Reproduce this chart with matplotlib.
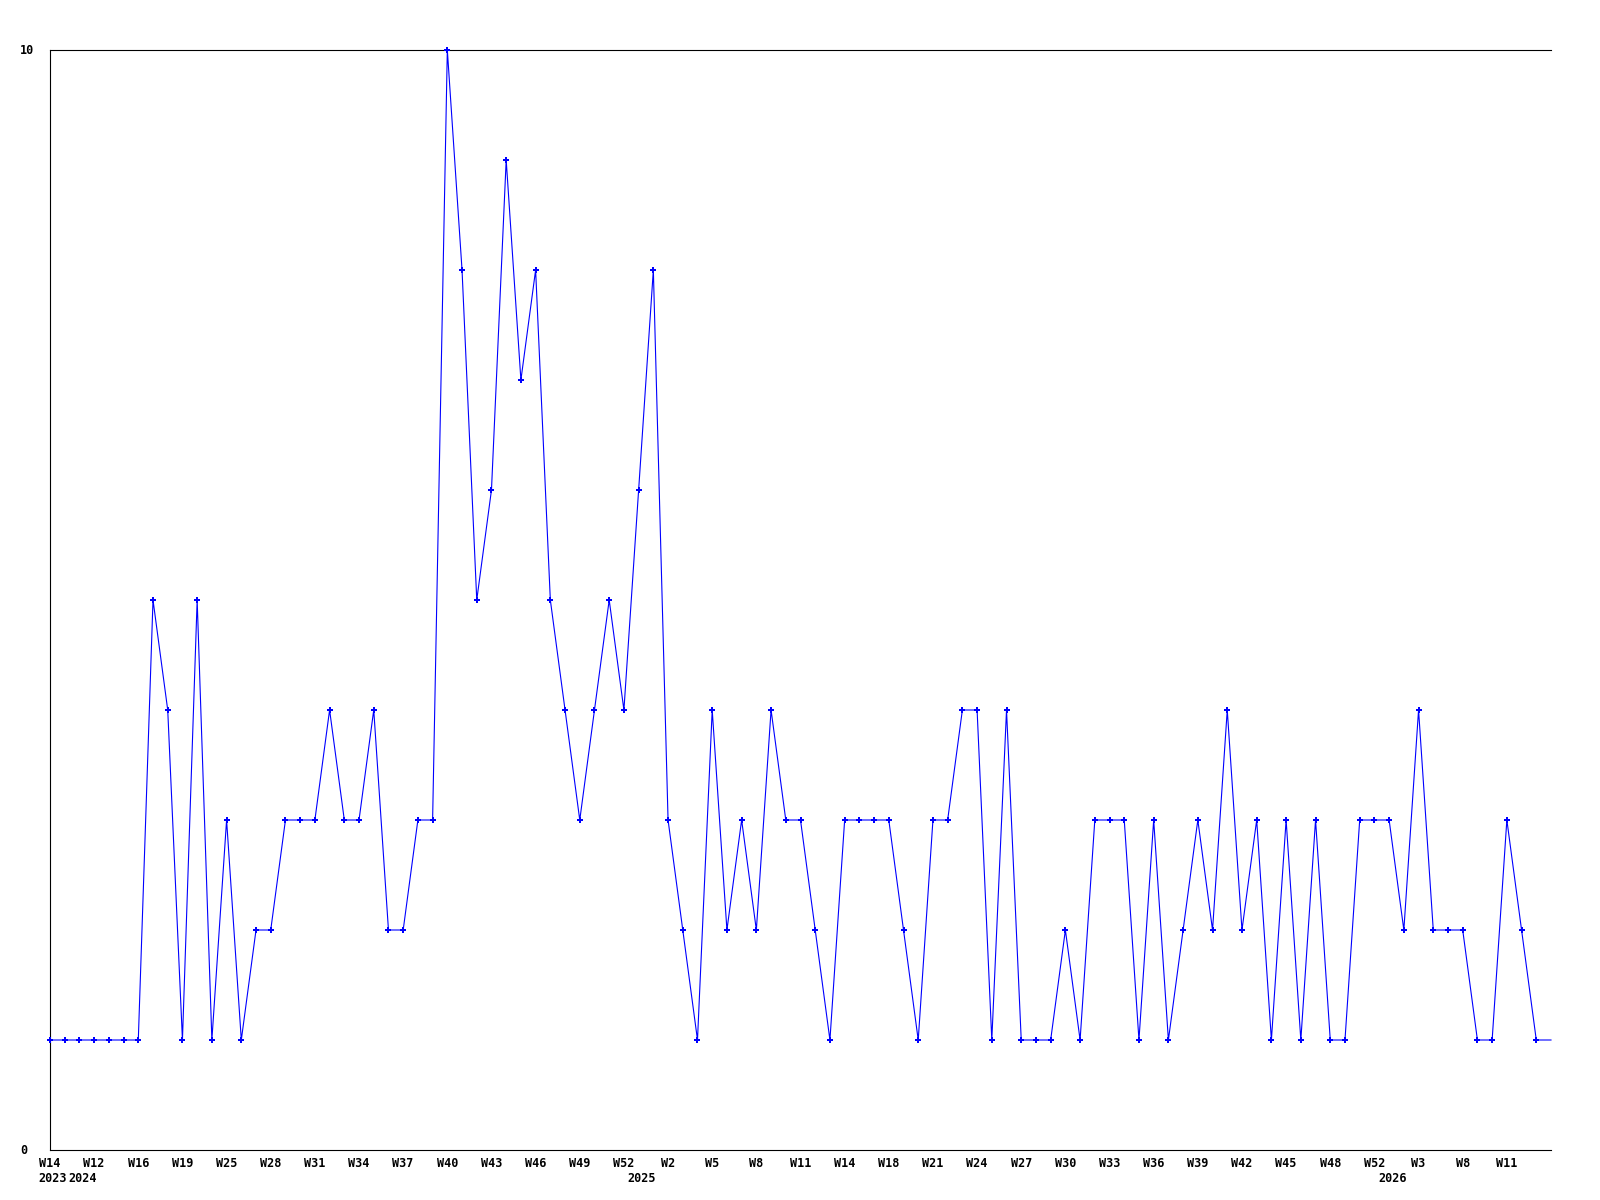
import matplotlib
matplotlib.use("Agg")
import matplotlib.pyplot as plt
import matplotlib.transforms as mtransforms

# ---- data ----
values = [1, 1, 1, 1, 1, 1, 1, 5, 4, 1,
          5, 1, 3, 1, 2, 2, 3, 3, 3, 4,
          3, 3, 4, 2, 2, 3, 3, 10, 8, 5,
          6, 9, 7, 8, 5, 4, 3, 4, 5, 4,
          6, 8, 3, 2, 1, 4, 2, 3, 2, 4,
          3, 3, 2, 1, 3, 3, 3, 3, 2, 1,
          3, 3, 4, 4, 1, 4, 1, 1, 1, 2,
          1, 3, 3, 3, 1, 3, 1, 2, 3, 2,
          4, 2, 3, 1, 3, 1, 3, 1, 1, 3,
          3, 3, 2, 4, 2, 2, 2, 1, 1, 3,
          2, 1, 1]

tick_idx = list(range(0, 100, 3))
tick_labels = ["W14", "W12", "W16", "W19", "W25", "W28", "W31", "W34", "W37",
               "W40", "W43", "W46", "W49", "W52", "W2", "W5", "W8", "W11",
               "W14", "W18", "W21", "W24", "W27", "W30", "W33", "W36", "W39",
               "W42", "W45", "W48", "W52", "W3", "W8", "W11"]
year_idx = [0, 2, 40, 91]
year_labels = ["2023", "2024", "2025", "2026"]
y_ticks = [0, 10]
y_tick_labels = ["0", "10"]

# ---- figure ----
W, H = 1600, 1200
fig = plt.figure(figsize=(16, 12), dpi=100)
ax = fig.add_axes([50 / W, 50 / H, 1501 / W, 1100 / H])

x = list(range(len(values)))
ax.plot(x, values, color="#0000ff", linewidth=0.8, clip_on=False, zorder=3)
ax.plot(x[:-1], values[:-1], linestyle="none", marker="P", markersize=4,
        color="#0000ff", markeredgewidth=0, clip_on=False, zorder=4)

ax.set_xlim(0, len(values) - 1)
ax.set_ylim(0, 10)
ax.set_xticks([])
ax.set_yticks([])
for s in ["top", "left", "bottom"]:
    ax.spines[s].set_linewidth(0.8)
    ax.spines[s].set_color("black")
ax.spines["right"].set_visible(False)

font = dict(family="DejaVu Sans Mono", fontweight="bold", fontsize=8.5, color="black")

# y labels (left aligned at x=20 px)
ytrans = mtransforms.blended_transform_factory(fig.transFigure, ax.transData)
for v, lab in zip(y_ticks, y_tick_labels):
    ax.text(20 / W, v, lab, transform=ytrans, ha="left", va="center", **font)

# x labels
xtrans = mtransforms.blended_transform_factory(ax.transData, fig.transFigure)
for i, lab in zip(tick_idx, tick_labels):
    ax.text(i, 1 - 1163.5 / H, lab, transform=xtrans, ha="center", va="center",
            clip_on=False, **font)

ytrans_year = mtransforms.offset_copy(xtrans, fig=fig, x=3, y=0, units="dots")
for i, lab in zip(year_idx, year_labels):
    ax.text(i, 1 - 1179 / H, lab, transform=ytrans_year, ha="center", va="center",
            clip_on=False, **font)

fig.savefig("out.png", dpi=100, facecolor="white")
